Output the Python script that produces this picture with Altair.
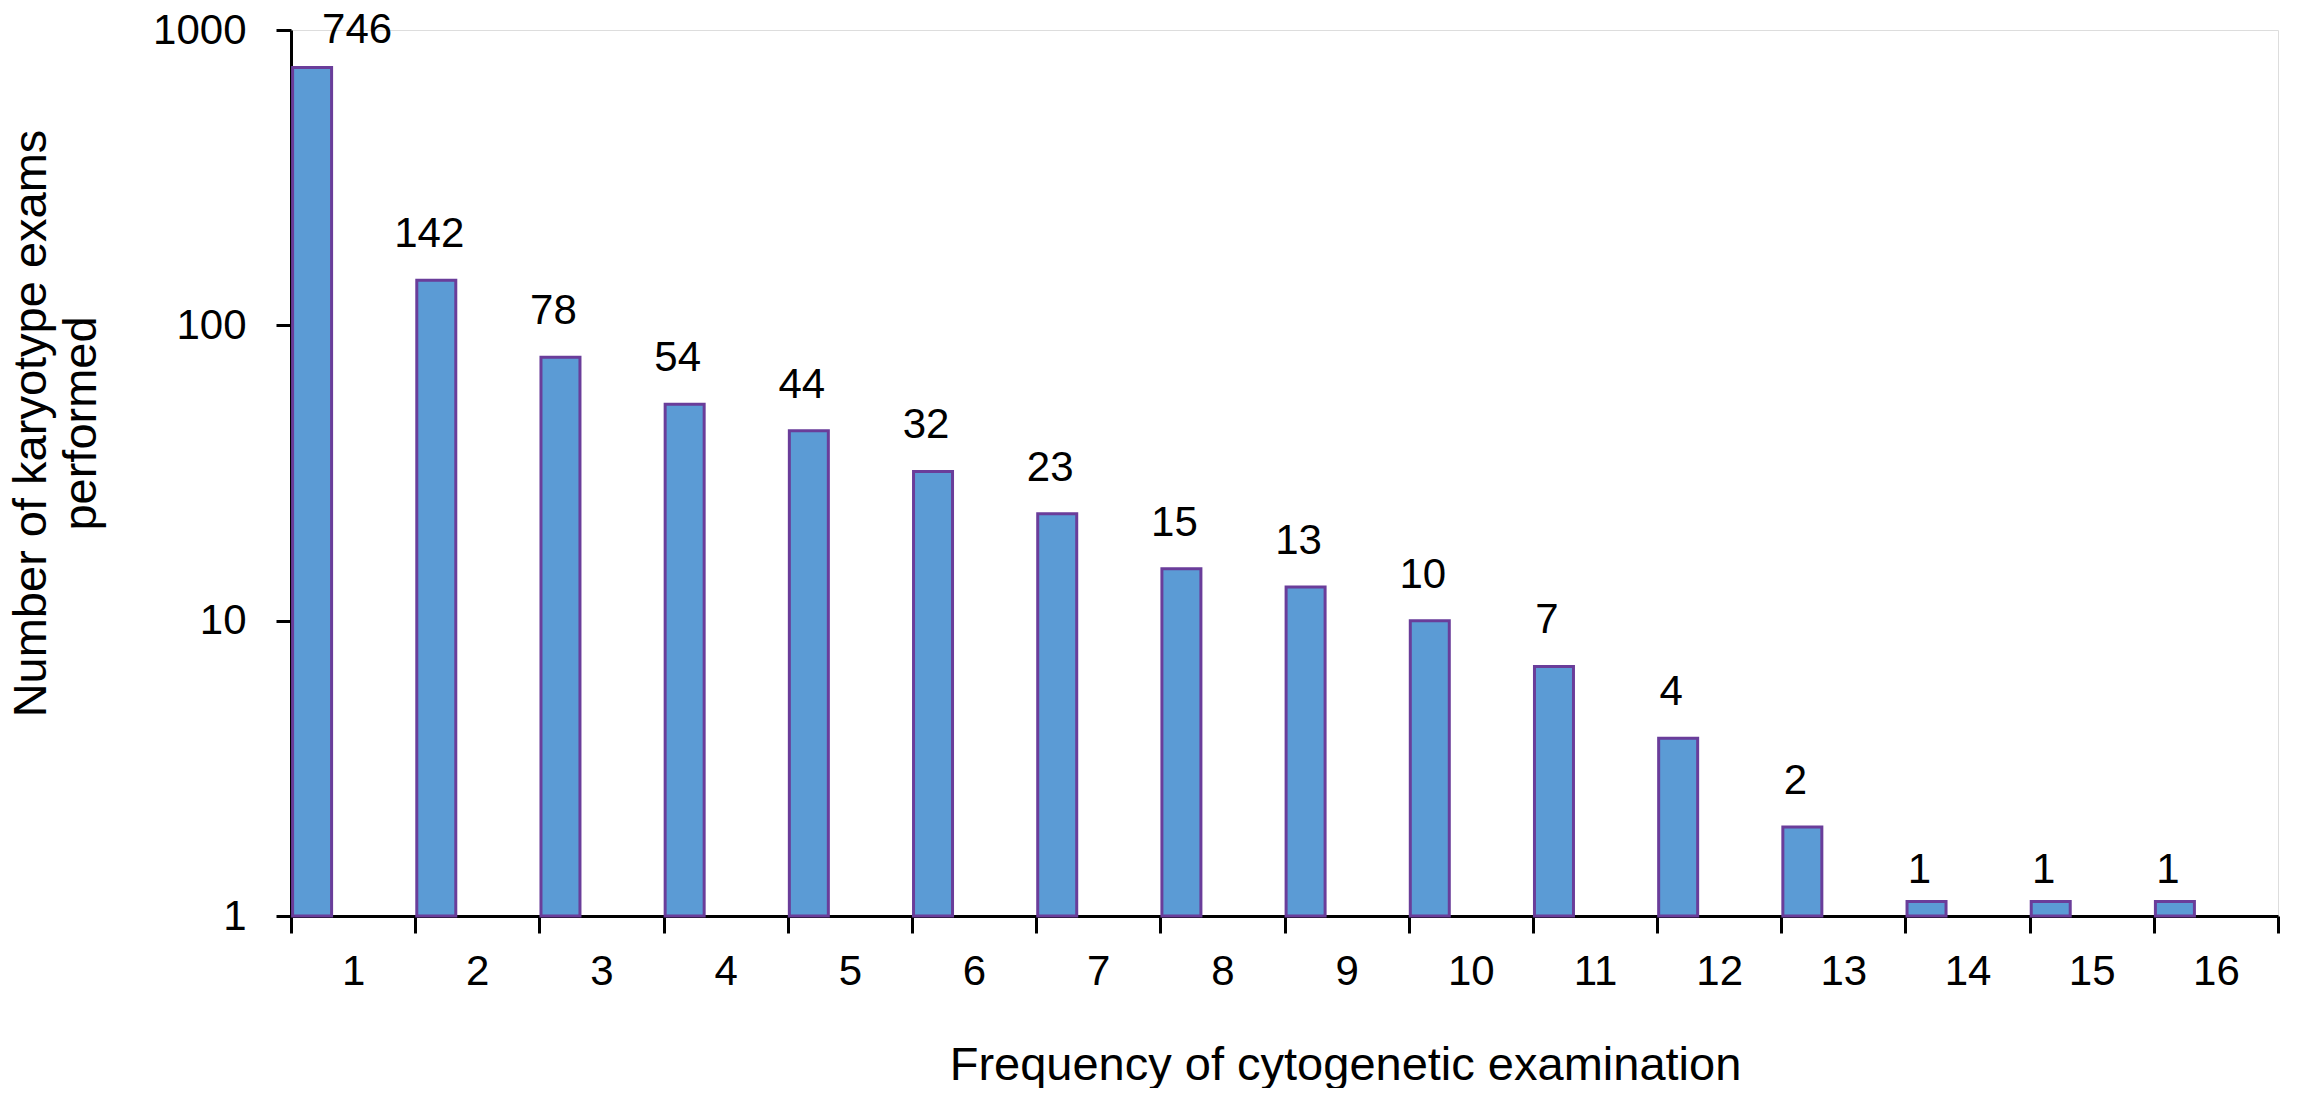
import altair as alt
import pandas as pd

# Data
frequency = list(range(1, 17))
exams = [746, 142, 78, 54, 44, 32, 23, 15, 13, 10, 7, 4, 2, 1, 1, 1]
y_ticks = [1, 10, 100, 1000]

df = pd.DataFrame({"freq": frequency, "count": exams})

FONT = "Liberation Sans"
FILL = "#5B9BD5"
STROKE = "#6A3D9A"
LABEL_SIZE = 42
TITLE_SIZE = 47

x_enc = alt.X(
    "freq:O",
    scale=alt.Scale(paddingInner=0, paddingOuter=0),
    axis=alt.Axis(
        title="Frequency of cytogenetic examination",
        labelAngle=0,
        tickBand="extent",
        tickSize=17,
        tickWidth=3,
        tickColor="black",
        domainWidth=3,
        domainColor="black",
        labelFont=FONT,
        labelFontSize=LABEL_SIZE,
        labelColor="black",
        labelBaseline="alphabetic",
        labelPadding=51,
        titleFont=FONT,
        titleFontSize=TITLE_SIZE,
        titleFontWeight="normal",
        titleColor="black",
        titleX=1054,
        titleY=163,
        titleBaseline="alphabetic",
        titleAlign="center",
        grid=False,
    ),
)

y_scale = alt.Scale(type="log", domain=[1, 1000])

base = alt.Chart(df).transform_calculate(plotted="max(datum.count, 1.12)")

bars = base.mark_bar(
    width=39, xOffset=-41, fill=FILL, stroke=STROKE, strokeWidth=3
).encode(
    x=x_enc,
    y=alt.Y(
        "plotted:Q",
        scale=y_scale,
        axis=alt.Axis(
            title=["Number of karyotype exams", "performed"],
            values=y_ticks,
            format="d",
            tickSize=15,
            tickWidth=3,
            tickColor="black",
            domainWidth=3,
            domainColor="black",
            labelFont=FONT,
            labelFontSize=LABEL_SIZE,
            labelColor="black",
            labelPadding=30,
            titleFont=FONT,
            titleFontSize=TITLE_SIZE,
            titleFontWeight="normal",
            titleColor="black",
            titleAngle=-90,
            titleAlign="center",
            titleBaseline="alphabetic",
            titleLineHeight=50,
            titleX=-246,
            titleY=393,
            grid=False,
        ),
    ),
    y2=alt.Y2(datum=1),
)

labels = base.transform_filter("datum.freq > 1").mark_text(
    font=FONT, fontSize=LABEL_SIZE, color="black", baseline="alphabetic",
    dy=-33, xOffset=-48,
).encode(
    x=alt.X("freq:O"),
    y=alt.Y("count:Q", scale=y_scale),
    text=alt.Text("count:Q"),
)

first_label = base.transform_filter("datum.freq == 1").mark_text(
    font=FONT, fontSize=LABEL_SIZE, color="black", baseline="alphabetic",
    dy=-25, xOffset=4,
).encode(
    x=alt.X("freq:O"),
    y=alt.Y("count:Q", scale=y_scale),
    text=alt.Text("count:Q"),
)

chart = (
    alt.layer(bars, labels, first_label)
    .properties(
        width=1987,
        height=886,
        autosize=alt.AutoSizeParams(type="none"),
        padding={"left": 283, "top": 22, "right": 25, "bottom": 172},
    )
    .configure_view(stroke=None)
    .configure(background="white")
)

chart.save("out.html", embed_options={"renderer": "svg", "actions": False})
